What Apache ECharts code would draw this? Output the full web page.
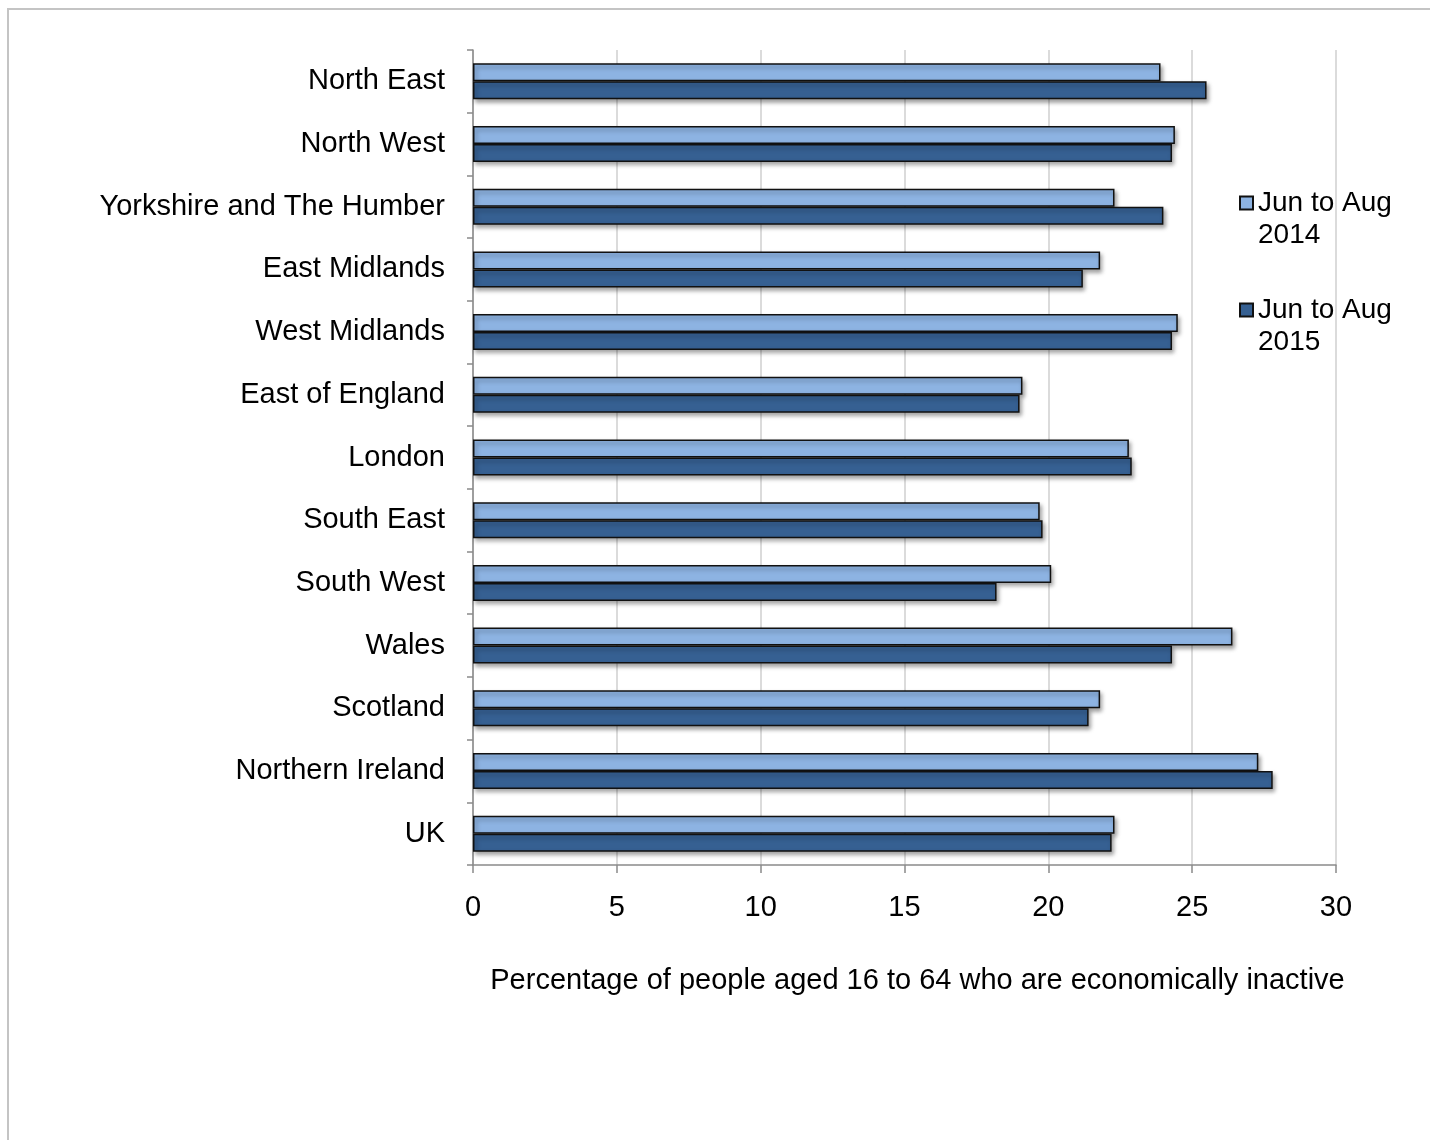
<!DOCTYPE html>
<html>
<head>
<meta charset="utf-8">
<script src="https://cdn.jsdelivr.net/npm/echarts@6/dist/echarts.min.js"></script>
<style>
html,body{margin:0;padding:0;background:#fff;}
#chart{width:1435px;height:1140px;}
</style>
</head>
<body>
<div id="chart"></div>
<script>
const categories = ["North East","North West","Yorkshire and The Humber","East Midlands","West Midlands","East of England","London","South East","South West","Wales","Scotland","Northern Ireland","UK"];
const values2014 = [23.9,24.4,22.3,21.8,24.5,19.1,22.8,19.7,20.1,26.4,21.8,27.3,22.3];
const values2015 = [25.5,24.3,24.0,21.2,24.3,19.0,22.9,19.8,18.2,24.3,21.4,27.8,22.2];
const seriesNames = ["Jun to Aug 2014","Jun to Aug 2015"];
const xTicks = [0,5,10,15,20,25,30];

const font = "'Liberation Sans', Arial, sans-serif";
const chart = echarts.init(document.getElementById('chart'), null, {renderer:'canvas'});
const barStyle = (c) => ({
  color: c, borderColor: '#111', borderWidth: 1.5,
  shadowColor: 'rgba(0,0,0,0.35)', shadowBlur: 4, shadowOffsetX: 2, shadowOffsetY: 3
});
chart.setOption({
  backgroundColor: '#fff',
  animation: false,
  grid: {left: 473, right: 99, top: 50, bottom: 275, containLabel: false},
  legend: {
    orient: 'vertical', left: 1234, top: 150,
    icon: 'rect', itemWidth: 13, itemHeight: 13, itemGap: 11,
    data: seriesNames,
    formatter: n => '\n' + n.replace(' 20', '\n20'),
    textStyle: {fontFamily: font, fontSize: 28, color: '#000', lineHeight: 32}
  },
  xAxis: {
    type: 'value', min: 0, max: 30, interval: 5,
    axisLine: {show: true, lineStyle: {color: '#8a8a8a', width: 1.5}},
    axisTick: {show: true, length: 8, lineStyle: {color: '#8a8a8a', width: 1.5}},
    splitLine: {show: true, lineStyle: {color: '#cfcfcf', width: 1.5}},
    axisLabel: {fontFamily: font, fontSize: 29, color: '#000', margin: 28,
      formatter: v => xTicks.includes(v) ? String(v) : ''},
    name: 'Percentage of people aged 16 to 64 who are economically inactive',
    nameLocation: 'middle', nameGap: 101,
    nameTextStyle: {fontFamily: font, fontSize: 29, color: '#000', padding: [0,0,0,26]}
  },
  yAxis: {
    type: 'category', data: categories, inverse: true,
    axisLine: {show: true, lineStyle: {color: '#8a8a8a', width: 1.5}},
    axisTick: {show: true, length: 6, lineStyle: {color: '#8a8a8a', width: 1.5}},
    axisLabel: {fontFamily: font, fontSize: 29, color: '#000', margin: 28},
    splitLine: {show: false}
  },
  series: [
    {name: seriesNames[0], type: 'bar', data: values2014, barWidth: 18, barGap: '0%', itemStyle: barStyle('#8db3e2')},
    {name: seriesNames[1], type: 'bar', data: values2015, barWidth: 18, barGap: '0%', itemStyle: barStyle('#366092')}
  ],
  graphic: [
    {type: 'polyline', silent: true, shape: {points: [[8,1140],[8,9],[1430,9]]}, style: {stroke: '#c4c4c4', lineWidth: 2, fill: null}}
  ]
});
</script>
</body>
</html>
